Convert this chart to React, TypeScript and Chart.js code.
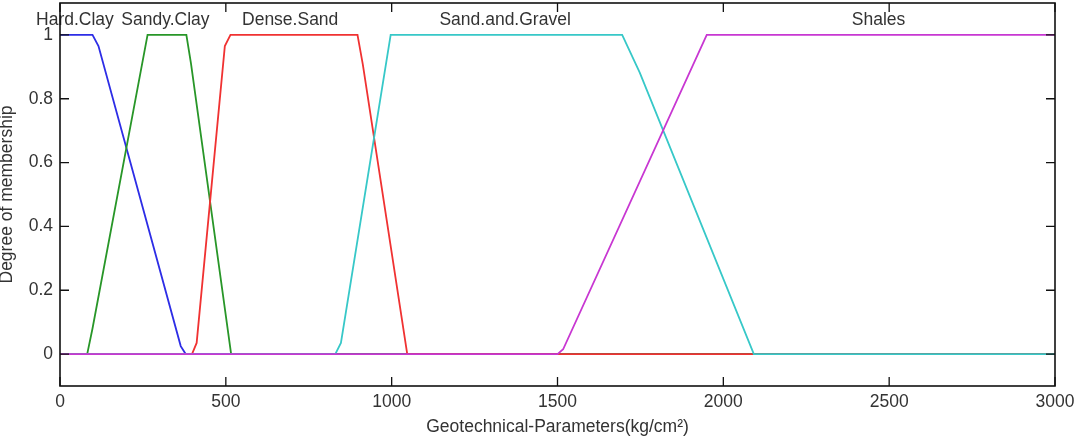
import React, { useEffect, useRef } from 'react';
import { Chart, registerables } from 'chart.js';

Chart.register(...registerables);

// Membership function names and where their labels sit (x value)
const mfNames = ['Hard.Clay', 'Sandy.Clay', 'Dense.Sand', 'Sand.and.Gravel', 'Shales'];
const mfLabelX = [45, 318, 694, 1342, 2468];

// Series (x, membership degree)
const hardClayX = [0, 98, 116, 364, 379, 3000];
const hardClayY = [1, 1, 0.965, 0.025, 0, 0];

const sandyClayX = [0, 82, 98, 264, 381, 395, 516, 3000];
const sandyClayY = [0, 0, 0.08, 1, 1, 0.91, 0, 0];

const denseSandX = [0, 398, 412, 497, 514, 897, 913, 1047, 3000];
const denseSandY = [0, 0, 0.035, 0.965, 1, 1, 0.908, 0, 0];

const sandGravelX = [0, 830, 847, 997, 1695, 1748, 2092, 3000];
const sandGravelY = [0, 0, 0.035, 1, 1, 0.882, 0, 0];

const shalesX = [0, 1500, 1517, 1950, 3000];
const shalesY = [0, 0, 0.015, 1, 1];

const xTicks = [0, 500, 1000, 1500, 2000, 2500, 3000];
const yTicks = [0, 0.2, 0.4, 0.6, 0.8, 1];

const xTitle = 'Geotechnical-Parameters(kg/cm²)';
const yTitle = 'Degree of membership';

const seriesX = [hardClayX, sandyClayX, denseSandX, sandGravelX, shalesX];
const seriesY = [hardClayY, sandyClayY, denseSandY, sandGravelY, shalesY];
const colors = ['rgb(45,45,230)', 'rgb(40,150,40)', 'rgb(240,50,50)', 'rgb(55,200,200)', 'rgb(200,55,210)'];

const FONT = '"Liberation Sans", Arial, sans-serif';
const FS = 17.5;

const framePlugin = {
  id: 'matlabFrame',
  afterDatasetsDraw(chart: any) {
    const { ctx, chartArea, scales } = chart;
    const { left, right, top, bottom } = chartArea;
    const x = scales.x;
    const y = scales.y;
    ctx.save();
    ctx.font = `${FS}px ${FONT}`;
    ctx.fillStyle = '#333';
    ctx.textAlign = 'center';
    ctx.textBaseline = 'middle';
    mfNames.forEach((n, i) => {
      ctx.fillText(n, x.getPixelForValue(mfLabelX[i]), y.getPixelForValue(1.046));
    });
    ctx.strokeStyle = '#111';
    ctx.lineWidth = 1.6;
    ctx.strokeRect(left, top, right - left, bottom - top);
    ctx.lineWidth = 1.3;
    ctx.beginPath();
    x.ticks.forEach((t: any) => {
      const px = x.getPixelForValue(t.value);
      ctx.moveTo(px, bottom);
      ctx.lineTo(px, bottom - 9);
      ctx.moveTo(px, top);
      ctx.lineTo(px, top + 9);
    });
    y.ticks.forEach((t: any) => {
      const py = y.getPixelForValue(t.value);
      ctx.moveTo(left, py);
      ctx.lineTo(left + 9, py);
      ctx.moveTo(right, py);
      ctx.lineTo(right - 9, py);
    });
    ctx.stroke();
    ctx.restore();
  },
};

export default function App() {
  const ref = useRef<HTMLCanvasElement | null>(null);
  useEffect(() => {
    document.body.style.margin = '0';
    const canvas = ref.current;
    if (!canvas) return;
    const chart = new Chart(canvas, {
      type: 'line',
      data: {
        datasets: mfNames.map((name, i) => ({
          label: name,
          data: seriesX[i].map((xv, j) => ({ x: xv, y: seriesY[i][j] })),
          borderColor: colors[i],
          backgroundColor: colors[i],
          borderWidth: 1.8,
          pointRadius: 0,
          tension: 0,
          fill: false,
          order: mfNames.length - i,
        })),
      },
      options: {
        responsive: false,
        animation: false,
        events: [],
        layout: { padding: { left: 0, right: 19, top: 3, bottom: 0 } },
        plugins: { legend: { display: false }, tooltip: { enabled: false }, title: { display: false } },
        scales: {
          x: {
            type: 'linear',
            min: 0,
            max: 3000,
            afterBuildTicks: (s: any) => {
              s.ticks = xTicks.map((v) => ({ value: v }));
            },
            afterFit: (s: any) => {
              s.height = 61;
              s.paddingLeft = 0;
              s.paddingRight = 0;
            },
            grid: { display: false, drawTicks: false },
            border: { display: false },
            ticks: {
              padding: 6,
              maxRotation: 0,
              autoSkip: false,
              color: '#333',
              font: { family: FONT, size: FS },
              callback: (v: any) => String(v),
            },
            title: {
              display: true,
              text: xTitle,
              color: '#333',
              font: { family: FONT, size: FS },
              padding: { top: 0, bottom: 9.5 },
            },
          },
          y: {
            type: 'linear',
            min: -0.1,
            max: 1.1,
            afterBuildTicks: (s: any) => {
              s.ticks = yTicks.map((v) => ({ value: v }));
            },
            afterFit: (s: any) => {
              s.width = 60;
              s.paddingTop = 0;
              s.paddingBottom = 0;
            },
            grid: { display: false, drawTicks: false },
            border: { display: false },
            ticks: {
              padding: 7,
              autoSkip: false,
              color: '#333',
              font: { family: FONT, size: FS },
              callback: (v: any) => String(v),
            },
            title: {
              display: true,
              text: yTitle,
              color: '#333',
              font: { family: FONT, size: FS },
              padding: { top: -3, bottom: 0 },
            },
          },
        },
      },
      plugins: [framePlugin],
    } as any);
    return () => chart.destroy();
  }, []);
  return (
    <div style={{ width: 1074, height: 447 }}>
      <canvas ref={ref} width={1074} height={447} style={{ display: 'block' }} />
    </div>
  );
}
